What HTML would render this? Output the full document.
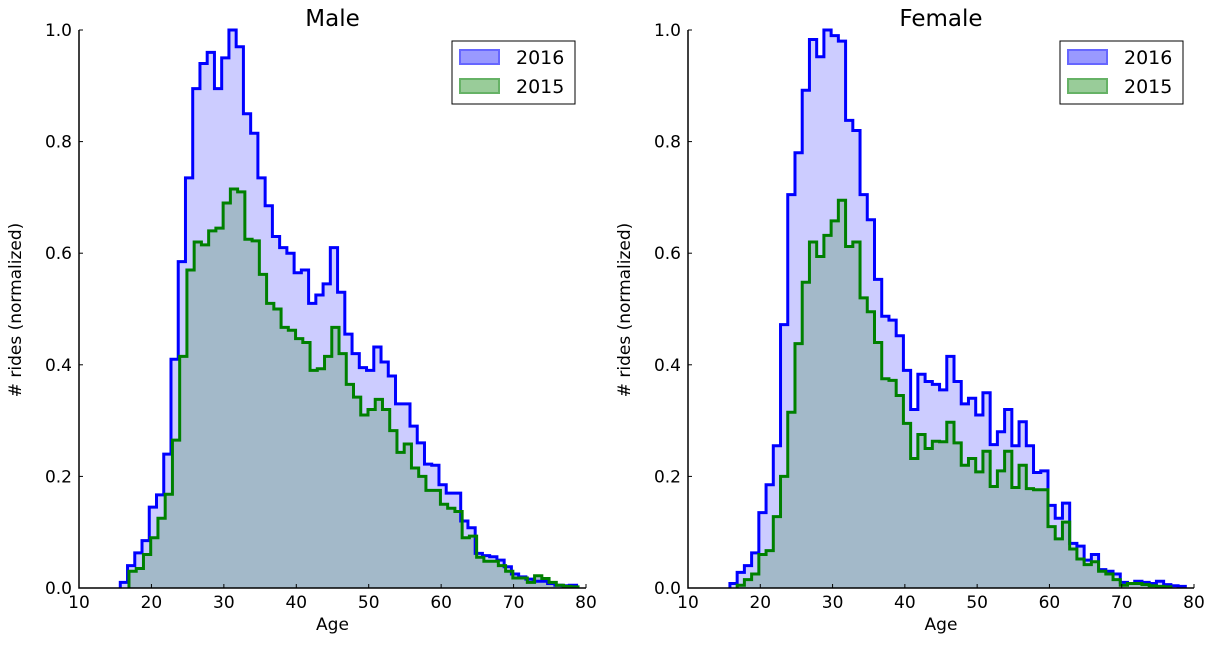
<!DOCTYPE html>
<html><head><meta charset="utf-8"><style>
body{margin:0;background:#fff;font-family:"Liberation Sans","DejaVu Sans",sans-serif}
svg text{font-family:"DejaVu Sans","Liberation Sans",sans-serif}
</style></head><body>
<svg id="chart" width="1212" height="641" viewBox="0 0 1212 641"></svg>
<script>
const maleStart2016 = 15.7;
const male2016 = [0.01,0.04,0.063,0.085,0.145,0.167,0.24,0.41,0.585,0.735,0.895,0.94,0.96,0.895,0.95,1.0,0.97,0.85,0.815,0.735,0.685,0.63,0.61,0.60,0.565,0.57,0.51,0.525,0.545,0.61,0.53,0.455,0.42,0.395,0.39,0.432,0.405,0.38,0.33,0.33,0.29,0.26,0.222,0.22,0.185,0.17,0.17,0.12,0.108,0.062,0.058,0.056,0.05,0.038,0.025,0.02,0.016,0.012,0.012,0.008,0.005,0.004,0.005];
const maleStart2015 = 16.9;
const male2015 = [0.03,0.035,0.06,0.09,0.125,0.168,0.265,0.415,0.57,0.62,0.615,0.64,0.645,0.69,0.715,0.71,0.625,0.622,0.562,0.51,0.5,0.467,0.462,0.447,0.44,0.39,0.393,0.415,0.467,0.42,0.365,0.342,0.31,0.32,0.338,0.32,0.282,0.243,0.258,0.215,0.2,0.175,0.175,0.15,0.143,0.137,0.09,0.093,0.055,0.048,0.048,0.04,0.03,0.018,0.018,0.01,0.022,0.017,0.01,0.005,0.003,0.002];
const femaleStart2016 = 15.8;
const female2016 = [0.008,0.028,0.04,0.063,0.135,0.185,0.255,0.472,0.705,0.78,0.892,0.983,0.952,1.0,0.99,0.98,0.838,0.82,0.705,0.66,0.553,0.487,0.48,0.452,0.39,0.32,0.383,0.37,0.365,0.355,0.415,0.37,0.33,0.34,0.31,0.35,0.257,0.28,0.32,0.255,0.298,0.255,0.207,0.21,0.148,0.125,0.152,0.08,0.075,0.05,0.06,0.033,0.03,0.025,0.01,0.008,0.012,0.01,0.008,0.012,0.006,0.004,0.003];
const femaleStart2015 = 16.8;
const female2015 = [0.005,0.015,0.025,0.06,0.067,0.128,0.2,0.315,0.438,0.548,0.62,0.594,0.632,0.658,0.695,0.612,0.62,0.52,0.495,0.44,0.375,0.372,0.345,0.295,0.232,0.275,0.25,0.263,0.262,0.297,0.26,0.22,0.232,0.208,0.245,0.182,0.21,0.245,0.18,0.22,0.178,0.176,0.176,0.11,0.088,0.118,0.07,0.052,0.042,0.047,0.03,0.025,0.015,0.005,0.008,0.008,0.006,0.004,0.003,0.002];
const xTicks = [10,20,30,40,50,60,70,80];
const yTicks = [0.0,0.2,0.4,0.6,0.8,1.0];

const NS = "http://www.w3.org/2000/svg";
const svg = document.getElementById('chart');
function mk(tag, attrs, parent){const e=document.createElementNS(NS,tag);for(const k in attrs)e.setAttribute(k,attrs[k]);(parent||svg).appendChild(e);return e;}

function panel(x0, x1, title, key, s16, d16, s15, d15){
  const y0=588, y1=30;
  const X=v=>x0+(v-10)/70*(x1-x0);
  const Y=v=>y0-v*(y0-y1);
  const g=mk('g',{});
  
  
  function stepPath(start, data, closed){
    let d='M'+X(start)+','+Y(0);
    data.forEach((v,i)=>{d+=' L'+X(start+i)+','+Y(v)+' L'+X(start+i+1)+','+Y(v);});
    d+=' L'+X(start+data.length)+','+Y(0);
    if(closed)d+=' Z';
    return d;
  }
  const f16=mk('path',{d:stepPath(s16,d16,true),fill:'#ccccff',stroke:'none'},g);
  
  
  const f15=mk('path',{d:stepPath(s15,d15,true),fill:'#a3b9c9',stroke:'none'},g);
  
  
  const l16=mk('path',{d:stepPath(s16,d16,false),fill:'none',stroke:'#0000ff','stroke-width':3},g);
  
  
  const l15=mk('path',{d:stepPath(s15,d15,false),fill:'none',stroke:'#008000','stroke-width':3},g);
  
  
  const ax=mk('path',{d:`M${x0},${y1} L${x0},${y0} L${x1},${y0}`,fill:'none',stroke:'#000','stroke-width':1.5},g);
  
  
  xTicks.forEach(t=>{
    mk('line',{x1:X(t),x2:X(t),y1:y0,y2:y0-4,stroke:'#000','stroke-width':1},g);
    const tx=mk('text',{x:X(t),y:y0+20,'text-anchor':'middle','font-size':17,fill:'#000'},g);
    tx.textContent=t;
    
    
  });
  yTicks.forEach(t=>{
    mk('line',{x1:x0,x2:x0+4,y1:Y(t),y2:Y(t),stroke:'#000','stroke-width':1},g);
    const tx=mk('text',{x:x0-7,y:Y(t)+6,'text-anchor':'end','font-size':17,fill:'#000'},g);
    tx.textContent=t.toFixed(1);
    
    
  });
  const tt=mk('text',{x:(x0+x1)/2,y:26,'text-anchor':'middle','font-size':23,fill:'#000'},g);
  tt.textContent=title;
  
  
  const xl=mk('text',{x:(x0+x1)/2,y:630,'text-anchor':'middle','font-size':17,fill:'#000'},g);
  xl.textContent='Age';
  
  
  const yl=mk('text',{x:0,y:0,'text-anchor':'middle','font-size':17,fill:'#000',transform:`translate(${x0-58},310) rotate(-90)`},g);
  yl.textContent='# rides (normalized)';
  
  
  const lx=x1-134, ly=41;
  const lg=mk('g',{},g);
  
  
  mk('rect',{x:lx,y:ly,width:123,height:63,fill:'#fff',stroke:'#000','stroke-width':1},lg);
  mk('rect',{x:lx+8,y:ly+9,width:39,height:14,fill:'#9999ff',stroke:'#6666ff','stroke-width':2},lg);
  mk('rect',{x:lx+8,y:ly+38,width:39,height:14,fill:'#99cc99',stroke:'#66b266','stroke-width':2},lg);
  const e1=mk('text',{x:lx+64,y:ly+23,'font-size':19,fill:'#000'},lg);
  e1.textContent='2016';
  
  
  const e2=mk('text',{x:lx+64,y:ly+52,'font-size':19,fill:'#000'},lg);
  e2.textContent='2015';
  
  
}
panel(79,586,'Male','male',maleStart2016,male2016,maleStart2015,male2015);
panel(688,1194,'Female','female',femaleStart2016,female2016,femaleStart2015,female2015);
</script>
</body></html>
